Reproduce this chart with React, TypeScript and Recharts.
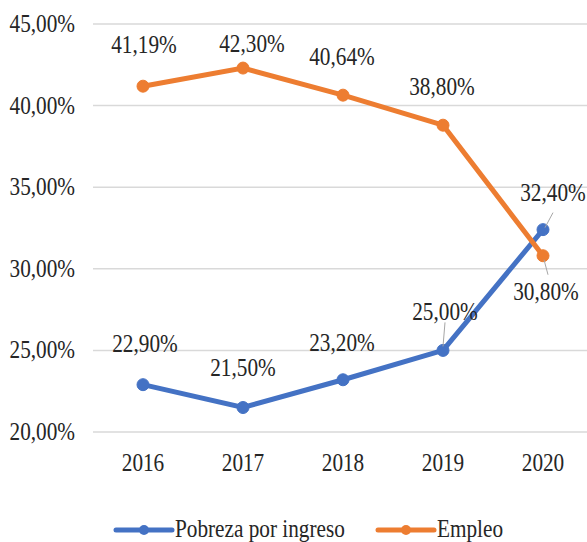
import React from 'react';
import { LineChart, Line, XAxis, YAxis, CartesianGrid, Legend, LabelList } from 'recharts';

const years = ['2016', '2017', '2018', '2019', '2020'];
const pobrezaValues = [22.9, 21.5, 23.2, 25.0, 32.4];
const empleoValues = [41.19, 42.3, 40.64, 38.8, 30.8];
const yTicks = [20, 25, 30, 35, 40, 45];
const seriesNames = ['Pobreza por ingreso', 'Empleo'];

const BLUE = '#4472C4';
const ORANGE = '#ED7D31';
const TEXT = '#262626';
const FONT = '"Liberation Serif", "Times New Roman", serif';
const FS = 25;
const SX = 0.85;

const data = years.map((year, i) => ({
  year,
  pobreza: pobrezaValues[i],
  empleo: empleoValues[i],
}));

const fmt = (v: number) => `${v.toFixed(2).replace('.', ',')}%`;

// label placement (center offset from the point) + optional leader line, like Excel's manual labels
const pobrezaPlace = [
  { dx: 2, dy: -41 },
  { dx: 0, dy: -40 },
  { dx: -1, dy: -37 },
  { dx: 2, dy: -38, leader: [2, -28, 0, -4] },
  { dx: 10, dy: -37, leader: [10, -17, 2, -2] },
];
const empleoPlace = [
  { dx: 1, dy: -41 },
  { dx: 9, dy: -24 },
  { dx: -1, dy: -38 },
  { dx: -1, dy: -38 },
  { dx: 3, dy: 36, leader: [1, 4, 5, 19] },
];

const SerifText = ({ x, y, anchor, children }: any) => (
  <text
    transform={`translate(${x},${y}) scale(${SX},1)`}
    textAnchor={anchor}
    fontFamily={FONT}
    fontSize={FS}
    fill={TEXT}
  >
    {children}
  </text>
);

const YTick = ({ x, y, payload }: any) => (
  <SerifText x={x} y={y + 8} anchor="end">
    {fmt(payload.value)}
  </SerifText>
);

const XTick = ({ x, y, payload }: any) => (
  <SerifText x={x} y={y + 39} anchor="middle">
    {payload.value}
  </SerifText>
);

const makeLabel = (place: any[]) => (props: any) => {
  const { x, y, value, index } = props;
  const p = place[index];
  if (!p) return null;
  return (
    <g>
      {p.leader && (
        <line
          x1={x + p.leader[0]}
          y1={y + p.leader[1]}
          x2={x + p.leader[2]}
          y2={y + p.leader[3]}
          stroke="#a6a6a6"
          strokeWidth={1}
        />
      )}
      <SerifText x={x + p.dx} y={y + p.dy + 8} anchor="middle">
        {fmt(value)}
      </SerifText>
    </g>
  );
};

const LegendContent = () => {
  const items = [
    { name: seriesNames[0], color: BLUE, x: 116 },
    { name: seriesNames[1], color: ORANGE, x: 378 },
  ];
  return (
    <svg width={587} height={24} style={{ display: 'block', overflow: 'visible' }}>
      {items.map((it) => (
        <g key={it.name}>
          <line x1={it.x} y1={12} x2={it.x + 56} y2={12} stroke={it.color} strokeWidth={5} strokeLinecap="round" />
          <circle cx={it.x + 28} cy={12} r={5} fill={it.color} />
          <SerifText x={it.x + 59} y={19} anchor="start">
            {it.name}
          </SerifText>
        </g>
      ))}
    </svg>
  );
};

export default function App() {
  return (
    <div style={{ position: 'absolute', left: 0, top: 0, width: 587, height: 542, overflow: 'hidden', background: '#fff' }}>
      <LineChart width={593} height={542} data={data} margin={{ top: 24, right: 0, left: 0, bottom: 0 }}>
        <CartesianGrid vertical={false} stroke="#d9d9d9" strokeWidth={1.5} />
        <XAxis
          dataKey="year"
          axisLine={false}
          tickLine={false}
          tickSize={0}
          tickMargin={0}
          height={86}
          tick={<XTick />}
          padding={{ left: 50, right: 50 }}
        />
        <YAxis
          domain={[20, 45]}
          ticks={yTicks}
          axisLine={false}
          tickLine={false}
          tickSize={0}
          tickMargin={18}
          width={93}
          tick={<YTick />}
          interval={0}
        />
        <Legend verticalAlign="bottom" height={24} content={<LegendContent />} />
        <Line
          dataKey="pobreza"
          name={seriesNames[0]}
          stroke={BLUE}
          strokeWidth={5}
          dot={{ r: 6, fill: BLUE, stroke: BLUE, strokeWidth: 1 }}
          isAnimationActive={false}
        >
          <LabelList dataKey="pobreza" content={makeLabel(pobrezaPlace)} />
        </Line>
        <Line
          dataKey="empleo"
          name={seriesNames[1]}
          stroke={ORANGE}
          strokeWidth={5}
          dot={{ r: 6, fill: ORANGE, stroke: ORANGE, strokeWidth: 1 }}
          isAnimationActive={false}
        >
          <LabelList dataKey="empleo" content={makeLabel(empleoPlace)} />
        </Line>
      </LineChart>
    </div>
  );
}
